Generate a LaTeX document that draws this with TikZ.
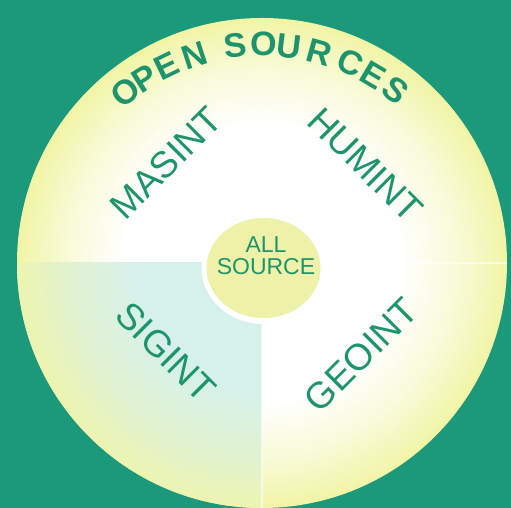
\documentclass[tikz,border=0pt]{standalone}
\usepackage{fontspec}
\setmainfont{Liberation Sans}
\usetikzlibrary{calc}

\definecolor{bgteal}{RGB}{28,152,122}
\definecolor{inkgreen}{RGB}{30,148,108}
\definecolor{rimyellow}{RGB}{240,245,165}
\definecolor{coreyellow}{RGB}{238,242,168}
\definecolor{sigtint}{RGB}{214,241,234}

\pgfdeclareradialshading{discglow}{\pgfpoint{0bp}{0bp}}{color(0bp)=(white); color(14bp)=(white); color(20bp)=(rimyellow!45!white); color(25bp)=(rimyellow); color(50bp)=(rimyellow)}
\pgfdeclareradialshading{sigglow}{\pgfpoint{0bp}{0bp}}{color(0bp)=(sigtint); color(13bp)=(sigtint); color(20bp)=(rimyellow!40!sigtint); color(25bp)=(rimyellow!85!sigtint); color(50bp)=(rimyellow)}

\begin{document}
\begin{tikzpicture}[x=1pt, y=1pt,
  lbl/.style={text=inkgreen, font=\fontsize{37}{40}\selectfont, inner sep=0pt},
  arcletter/.style={text=inkgreen, font=\fontsize{34}{36}\selectfont\bfseries, inner sep=0pt, anchor=base}]
\useasboundingbox (0,0) rectangle (511,508);
\fill[bgteal] (0,0) rectangle (511,508);
\coordinate (c) at (262,245);

% disc and its quadrants
\shade[shading=discglow] (c) circle[radius=245pt];
\begin{scope}
  \clip (c) rectangle ++(-250,-250);
  \shade[shading=sigglow] (c) circle[radius=245pt];
\end{scope}
\draw[white, line width=1.5pt, opacity=.6] (c) -- ++(0,-245) (c) -- ++(245,0);

% all source
\fill[white] (263.5,240) ellipse[x radius=62pt, y radius=56pt];
\fill[coreyellow] (263.5,240) ellipse[x radius=57pt, y radius=50pt];
\node[text=inkgreen, font=\fontsize{23}{22}\selectfont, align=center, inner sep=0pt] (all) at (266,252) {ALL\\SOURCE};

\foreach \name/\x/\y/\ang in {MASINT/166/345/45, HUMINT/365/343/-45, SIGINT/166/156/-45, GEOINT/361/153/45}
  \node[lbl, rotate=\ang] (\name) at (\x,\y) {\name};

% open sources, letter by letter round the rim
\foreach \ch/\ang [count=\i] in {O/128.7, P/122.4, E/115.8, N/108.1, S/97.0, O/89.6, U/83.0, R/74.7, C/66.2, E/59.3, S/52.3}
  \node[arcletter, rotate=\ang-90] (open\i) at ($(c)+(\ang:207)$) {\ch};
\end{tikzpicture}
\end{document}
